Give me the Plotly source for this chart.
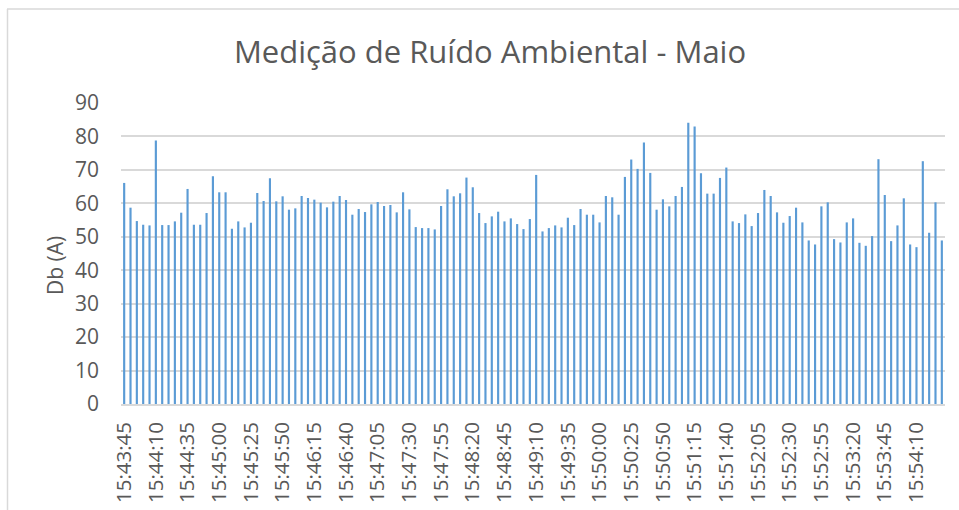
import pandas as pd
import plotly.graph_objects as go

# Sampling times: one reading every 5 seconds starting at 15:43:45
start_time = "15:43:45"
step_seconds = 5

# Noise level readings, dB(A)
noise_db = [
    66.1, 58.7, 54.7, 53.6, 53.4, 78.8, 53.5, 53.5, 54.6, 57.2, 64.3, 53.6, 53.6, 57.1,
    68.1, 63.3, 63.3, 52.4, 54.6, 52.8, 54.2, 63.1, 60.7, 67.5, 60.6, 62.1, 58.1, 58.5,
    62.2, 61.6, 61.1, 60.2, 58.8,
    60.5, 62.2, 61.0, 56.6, 58.3, 57.4, 59.7, 60.4, 59.2, 59.5, 57.3, 63.3, 58.2, 52.9,
    52.6, 52.6, 52.2, 59.2, 64.2,
    62.1, 63.0, 67.7, 64.8, 57.1, 54.1, 56.1, 57.5, 54.6, 55.5, 53.8, 52.3, 55.3, 68.5,
    51.6, 52.6, 53.4, 52.8, 55.7,
    53.5, 58.3, 56.6, 56.6, 54.3, 62.2, 61.8, 56.6, 67.9, 73.1, 70.3, 78.2, 69.1, 58.1,
    61.2, 59.1, 62.2, 64.9, 84.1,
    83.0, 69.0, 62.9, 62.9, 67.6, 70.7, 54.6, 54.1, 56.7, 53.2, 57.1, 64.0, 62.2, 57.3,
    54.2, 56.2, 58.7, 54.3, 48.9,
    47.7, 59.1, 60.3, 49.3, 48.3, 54.3, 55.5, 48.2, 47.3, 50.2, 73.2, 62.5, 48.7, 53.4,
    61.5, 47.7, 46.9, 72.6, 51.2, 60.3, 48.9,
]

times = pd.date_range(
    "2000-01-01 " + start_time, periods=len(noise_db), freq=f"{step_seconds}s"
).strftime("%H:%M:%S").tolist()

# Axis labels shown every 25 seconds
tick_labels = [
    "15:43:45", "15:44:10", "15:44:35", "15:45:00", "15:45:25", "15:45:50",
    "15:46:15", "15:46:40", "15:47:05", "15:47:30", "15:47:55", "15:48:20",
    "15:48:45", "15:49:10", "15:49:35", "15:50:00", "15:50:25", "15:50:50",
    "15:51:15", "15:51:40", "15:52:05", "15:52:30", "15:52:55", "15:53:20",
    "15:53:45", "15:54:10",
]
y_ticks = [0, 10, 20, 30, 40, 50, 60, 70, 80, 90]

FONT = "Open Sans"
TEXT_GREY = "#595959"
GRID_GREY = "#d9d9d9"

W, H = 959, 510
L, R, T, B = 121, 14, 103, 106
plot_w = W - L - R
plot_h = H - T - B


def px_to_paper_x(px):
    return (px - L) / plot_w


def px_to_paper_y(py):
    return (H - B - py) / plot_h


fig = go.Figure(
    go.Bar(
        x=times,
        y=noise_db,
        marker=dict(color="#5B9BD5", line=dict(width=0)),
        hoverinfo="x+y",
    )
)

fig.update_layout(
    width=W,
    height=H,
    margin=dict(l=L, r=R, t=T, b=B, autoexpand=False),
    paper_bgcolor="white",
    plot_bgcolor="white",
    bargap=0.66,
    showlegend=False,
    font=dict(family=FONT, color=TEXT_GREY),
    title=dict(
        text="Medição de Ruído Ambiental - Maio",
        font=dict(family=FONT, size=31, color=TEXT_GREY),
        x=px_to_paper_x(490),
        xref="paper",
        xanchor="center",
        y=1 - 52 / H,
        yref="container",
        yanchor="middle",
    ),
    annotations=[
        dict(
            text="Db (A)",
            textangle=-90,
            x=px_to_paper_x(55),
            y=px_to_paper_y(266),
            xref="paper",
            yref="paper",
            xanchor="center",
            yanchor="middle",
            showarrow=False,
            font=dict(family=FONT, size=21, color=TEXT_GREY),
        )
    ],
    shapes=[
        dict(type="line", xref="paper", yref="paper",
             x0=px_to_paper_x(7.5), x1=px_to_paper_x(7.5),
             y0=px_to_paper_y(9), y1=px_to_paper_y(H + 5),
             line=dict(color=GRID_GREY, width=1.5)),
        dict(type="line", xref="paper", yref="paper",
             x0=px_to_paper_x(7), x1=px_to_paper_x(W + 5),
             y0=px_to_paper_y(9), y1=px_to_paper_y(9),
             line=dict(color=GRID_GREY, width=1.5)),
    ],
)

fig.update_xaxes(
    type="category",
    automargin=False,
    tickmode="array",
    tickvals=tick_labels,
    ticktext=tick_labels,
    tickangle=-90,
    tickfont=dict(family=FONT, size=20.5, color=TEXT_GREY),
    showgrid=False,
    showline=True,
    linecolor=GRID_GREY,
    linewidth=1.5,
    ticks="",
    ticklabelstandoff=8,
)

fig.update_yaxes(
    automargin=False,
    range=[0, 90],
    tickvals=y_ticks,
    tickfont=dict(family=FONT, size=21, color=TEXT_GREY),
    showgrid=True,
    gridcolor=GRID_GREY,
    gridwidth=1.5,
    zeroline=False,
    showline=False,
    ticks="",
    ticklabelstandoff=21,
)

fig.write_html("out.html")
